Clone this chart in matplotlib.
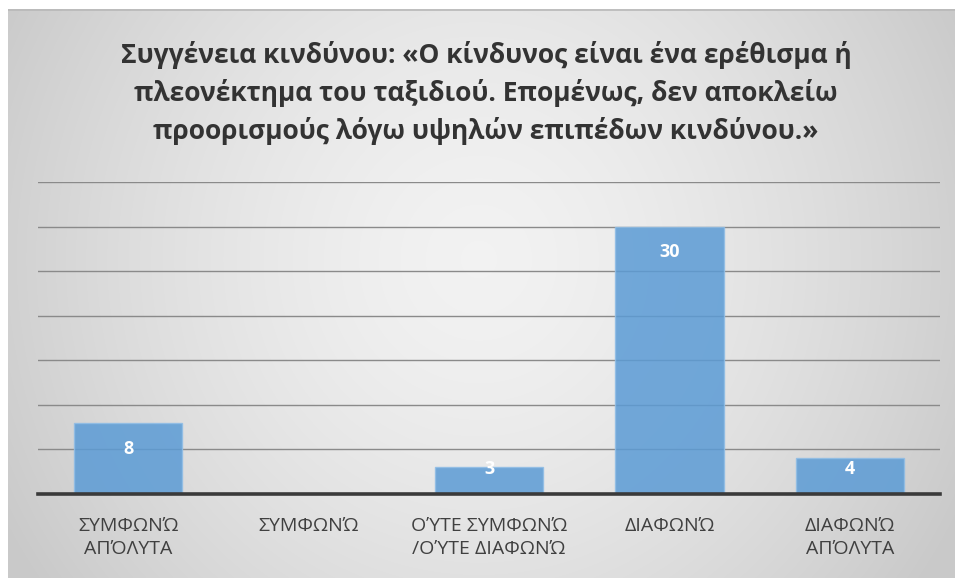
import numpy as np
import matplotlib
matplotlib.use("Agg")
import matplotlib.pyplot as plt

plt.rcParams['font.family'] = ['Open Sans', 'DejaVu Sans']

categories = ["ΣΥΜΦΩΝΏ\nΑΠΌΛΥΤΑ", "ΣΥΜΦΩΝΏ", "ΟΎΤΕ ΣΥΜΦΩΝΏ\n/ΟΎΤΕ ΔΙΑΦΩΝΏ", "ΔΙΑΦΩΝΏ", "ΔΙΑΦΩΝΏ\nΑΠΌΛΥΤΑ"]
values = [8, 0, 3, 30, 4]
title = ("Συγγένεια κινδύνου: «Ο κίνδυνος είναι ένα ερέθισμα ή\n"
         "πλεονέκτημα του ταξιδιού. Επομένως, δεν αποκλείω\n"
         "προορισμούς λόγω υψηλών επιπέδων κινδύνου.»")

W, H = 955, 578
fig = plt.figure(figsize=(W / 100, H / 100), dpi=100)
fig.patch.set_facecolor("white")

# radial grey background panel
bg = fig.add_axes([8 / W, 0, (W - 8) / W, (H - 9) / H])
bg.set_axis_off()
yy, xx = np.mgrid[0:569, 0:947]
cx, cy = 470, 250
r = np.sqrt(((xx - cx) / 540.0) ** 2 + ((yy - cy) / 560.0) ** 2)
r = np.clip(r, 0, 1)
shade = 0.95 - 0.16 * r ** 1.5
bg.imshow(np.dstack([shade] * 3), aspect="auto", extent=[0, 1, 0, 1], origin="upper")
bg.set_xlim(0, 1)
bg.set_ylim(0, 1)
bg.plot([0, 1], [0.999, 0.999], color="#b8b8b8", lw=1.2)

ax = fig.add_axes([38 / W, 84 / H, (940 - 38) / W, (494 - 182) / H])
ax.patch.set_alpha(0)
x = np.arange(len(categories))
ax.set_xlim(-0.5, len(categories) - 0.5)
ax.set_ylim(0, 35)
ax.set_yticks(np.arange(5, 36, 5))
ax.yaxis.grid(True, color="#8a8a8a", lw=1.0)
ax.set_axisbelow(True)
for s in ["top", "right", "left"]:
    ax.spines[s].set_visible(False)
ax.spines["bottom"].set_color("#3a3a3a")
ax.spines["bottom"].set_linewidth(2.6)
ax.tick_params(axis="y", left=False, labelleft=False)
ax.tick_params(axis="x", bottom=False, pad=13)

ax.bar(x, values, width=0.6, color="#5b9bd5", alpha=0.85,
       edgecolor="#8fbde6", linewidth=1.0, zorder=2)

ax.set_xticks(x)
ax.set_xticklabels(categories, fontsize=14, color="#404040", linespacing=1.35)

for xi, v in zip(x, values):
    if v > 0:
        ax.text(xi, max(v - 2.9, 2.85), str(v), ha="center", va="center",
                color="white", fontsize=13, fontweight="bold", zorder=3)

fig.text(486 / W, 1 - 93 / H, title, ha="center", va="center",
         fontsize=19, fontweight="bold", color="#333333", linespacing=1.45)

fig.savefig("out.png", dpi=100)
